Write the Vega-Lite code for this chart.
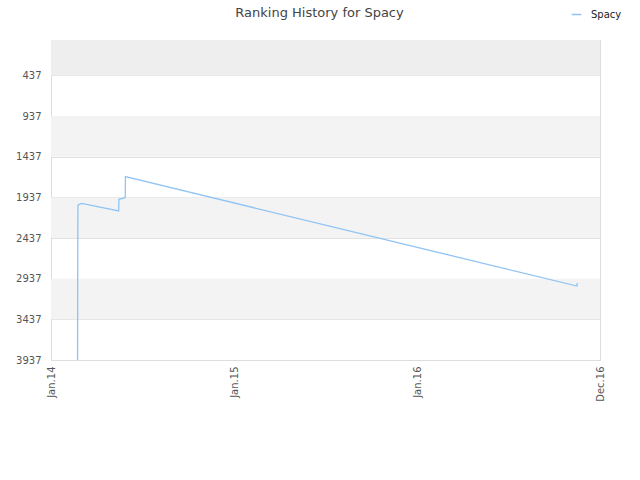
{
  "$schema": "https://vega.github.io/schema/vega-lite/v6.json",
  "width": 549,
  "height": 320,
  "autosize": {"type": "none"},
  "padding": {"left": 51, "top": 40, "right": 40, "bottom": 120},
  "background": "white",
  "config": {
    "font": "DejaVu Sans",
    "view": {"stroke": "#dddddd", "strokeWidth": 1}
  },
  "title": {
    "text": "Ranking History for Spacy",
    "fontSize": 13,
    "fontWeight": "normal",
    "color": "#444444",
    "anchor": "middle",
    "dx": -6,
    "offset": -11
  },
  "datasets": {
    "bands": [
      {"y1": 1, "y2": 437, "shade": "top"},
      {"y1": 937, "y2": 1437, "shade": "alt"},
      {"y1": 1937, "y2": 2437, "shade": "alt"},
      {"y1": 2937, "y2": 3437, "shade": "alt"}
    ],
    "ranks": [
      {"date": "2014-02-23T00:00", "rank": 3937, "name": "Spacy"},
      {"date": "2014-02-23T06:00", "rank": 2900, "name": "Spacy"},
      {"date": "2014-02-23T12:00", "rank": 2300, "name": "Spacy"},
      {"date": "2014-02-23T18:00", "rank": 2030, "name": "Spacy"},
      {"date": "2014-03-03", "rank": 2010, "name": "Spacy"},
      {"date": "2014-05-16T00:00", "rank": 2104, "name": "Spacy"},
      {"date": "2014-05-16T12:00", "rank": 1960, "name": "Spacy"},
      {"date": "2014-05-29T00:00", "rank": 1940, "name": "Spacy"},
      {"date": "2014-05-29T12:00", "rank": 1682, "name": "Spacy"},
      {"date": "2016-11-15T00:00", "rank": 3027, "name": "Spacy"},
      {"date": "2016-11-15T12:00", "rank": 2990, "name": "Spacy"}
    ]
  },
  "layer": [
    {
      "data": {"name": "bands"},
      "mark": {"type": "rect", "strokeWidth": 0},
      "encoding": {
        "y": {"field": "y1", "type": "quantitative", "scale": {"domain": [1, 3937], "reverse": true, "nice": false, "zero": false}},
        "y2": {"field": "y2"},
        "color": {"field": "shade", "type": "nominal", "scale": {"domain": ["top", "alt"], "range": ["#eeeeee", "#f3f3f3"]}, "legend": null}
      }
    },
    {
      "data": {"name": "ranks"},
      "mark": {"type": "line", "strokeWidth": 1.3, "interpolate": "linear"},
      "encoding": {
        "x": {
          "field": "date",
          "type": "temporal",
          "scale": {"domain": ["2014-01-01", "2016-12-31"], "nice": false},
          "axis": {
            "title": null,
            "values": ["2014-01-01", "2015-01-01", "2016-01-01", "2016-12-31"],
            "labelExpr": "['Jan.14','Jan.15','Jan.16','Dec.16'][datum.index*3]",
            "labelAngle": 270,
            "labelAlign": "right",
            "labelBaseline": "middle",
            "labelFontSize": 10,
            "labelColor": "#555555",
            "labelPadding": 6,
            "ticks": false,
            "grid": false,
            "domainColor": "#dddddd",
            "labelOverlap": false,
            "labelBound": false,
            "labelFlush": false
          }
        },
        "y": {
          "field": "rank",
          "type": "quantitative",
          "scale": {"domain": [1, 3937], "reverse": true, "nice": false, "zero": false},
          "axis": {
            "title": null,
            "values": [437, 937, 1437, 1937, 2437, 2937, 3437, 3937],
            "format": "d",
            "labelFontSize": 10,
            "labelColor": "#555555",
            "labelPadding": 10,
            "ticks": false,
            "gridColor": "#e2e2e2",
            "domainColor": "#dddddd",
            "labelOverlap": false,
            "labelFlush": false
          }
        },
        "stroke": {
          "field": "name",
          "type": "nominal",
          "scale": {"range": ["#90c4f5"]},
          "legend": {
            "title": null,
            "orient": "none",
            "legendX": 520,
            "legendY": -31,
            "symbolType": "stroke",
            "symbolSize": 90,
            "symbolStrokeWidth": 1.5,
            "labelOffset": 9,
            "labelFontSize": 10,
            "labelColor": "#222222"
          }
        }
      }
    }
  ]
}
